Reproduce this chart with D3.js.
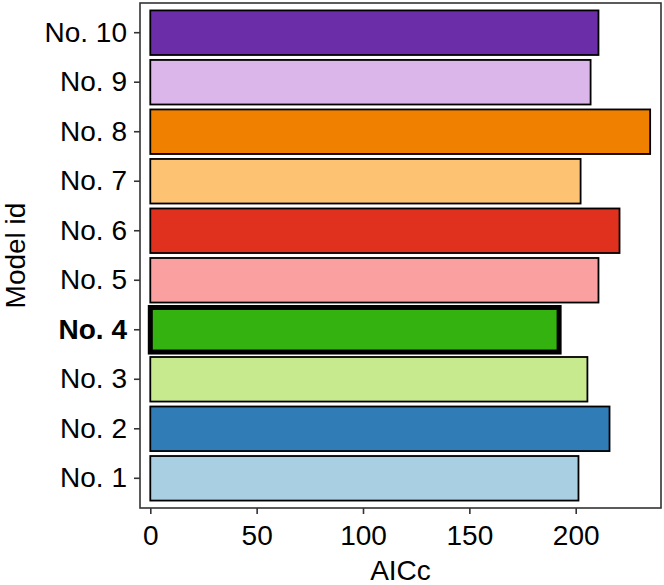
<!DOCTYPE html>
<html>
<head>
<meta charset="utf-8">
<script src="https://cdn.jsdelivr.net/npm/d3@7"></script>
<style>
  html, body { margin: 0; padding: 0; background: #fff; }
  svg { display: block; }
  text { font-family: "Liberation Sans", Arial, Helvetica, sans-serif; }
</style>
</head>
<body>
<svg id="chart" width="664" height="585"></svg>
<script>
const models = ["No. 1","No. 2","No. 3","No. 4","No. 5","No. 6","No. 7","No. 8","No. 9","No. 10"];
const aicc   = [201.3, 215.9, 205.5, 192.2, 210.7, 220.6, 202.3, 235.0, 207.0, 210.7];
const colors = ["#A9CFE2","#2F7CB7","#C8EA8F","#34B20F","#FBA0A0","#E0301E","#FDC272","#F08000","#DAB6EA","#6C2EA8"];
const xTicks = [0, 50, 100, 150, 200];
const bestModel = "No. 4";

const svg = d3.select("#chart");
const panel = {left: 140, right: 661, top: 3, bottom: 508};

const x = d3.scaleLinear().domain([-4.84, 240.1]).range([panel.left, panel.right]);
const y = d3.scaleBand().domain(models.slice().reverse())
  .range([panel.top, panel.bottom]).paddingInner(0.1).paddingOuter(0.15);

const data = models.map((m, i) => ({model: m, value: aicc[i], color: colors[i]}));

// bars
svg.append("g").selectAll("rect").data(data).join("rect")
  .attr("x", x(0))
  .attr("y", d => y(d.model))
  .attr("width", d => x(d.value) - x(0))
  .attr("height", y.bandwidth())
  .attr("fill", d => d.color)
  .attr("stroke", "#000")
  .attr("stroke-width", d => d.model === bestModel ? 5 : 1.8);

// panel border
svg.append("rect")
  .attr("x", panel.left).attr("y", panel.top)
  .attr("width", panel.right - panel.left).attr("height", panel.bottom - panel.top)
  .attr("fill", "none").attr("stroke", "#333").attr("stroke-width", 1.6);

// x axis
const xAxis = svg.append("g").attr("transform", `translate(0,${panel.bottom})`)
  .call(d3.axisBottom(x).tickValues(xTicks).tickSize(6).tickPadding(11));
xAxis.select(".domain").remove();
xAxis.selectAll(".tick line").attr("stroke", "#333").attr("stroke-width", 1.6);
xAxis.selectAll(".tick text").attr("fill", "#000").attr("font-size", 28)
  .attr("font-family", "'Liberation Sans', Arial, sans-serif");

// y axis
const yAxis = svg.append("g").attr("transform", `translate(${panel.left},0)`)
  .call(d3.axisLeft(y).tickSize(6).tickPadding(7));
yAxis.select(".domain").remove();
yAxis.selectAll(".tick line").attr("stroke", "#333").attr("stroke-width", 1.6);
yAxis.selectAll(".tick text").attr("fill", "#000").attr("font-size", 28)
  .attr("font-family", "'Liberation Sans', Arial, sans-serif")
  .attr("font-weight", d => d === bestModel ? "bold" : "normal");

// axis titles
svg.append("text").attr("x", (panel.left + panel.right) / 2).attr("y", 580)
  .attr("text-anchor", "middle").attr("font-size", 28).attr("fill", "#000").text("AICc");
svg.append("text").attr("transform", `translate(25,${(panel.top + panel.bottom) / 2}) rotate(-90)`)
  .attr("text-anchor", "middle").attr("font-size", 28).attr("fill", "#000").text("Model id");
</script>
</body>
</html>
